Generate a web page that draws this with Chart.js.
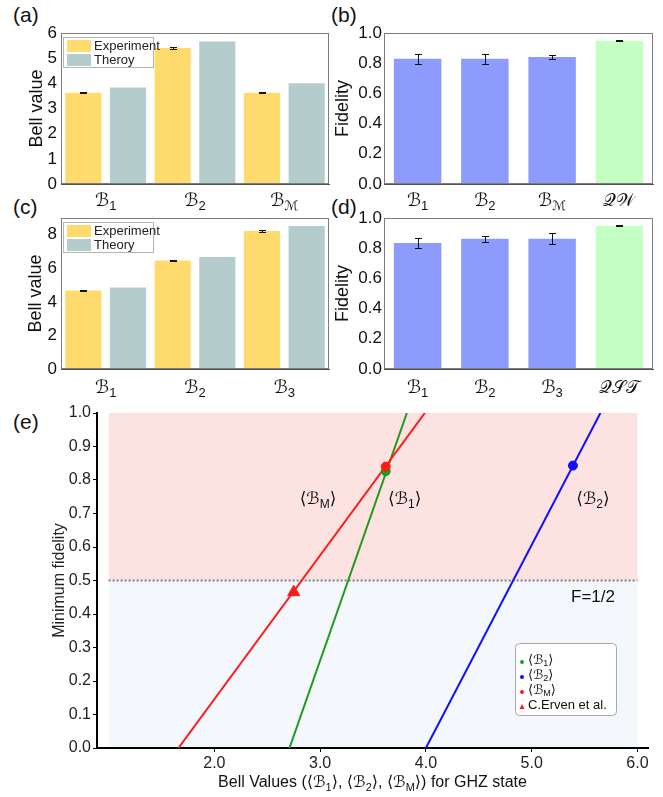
<!DOCTYPE html>
<html>
<head>
<meta charset="utf-8">
<script src="https://cdn.jsdelivr.net/npm/chart.js@4.4.0/dist/chart.umd.min.js"></script>
<style>
    body { margin: 0; background: #fff; width: 663px; height: 797px; position: relative; overflow: hidden; font-family: 'Liberation Sans', Arial, sans-serif; }
    canvas { position: absolute; }
    .tag { position: absolute; font-size: 21px; line-height: 1; color: #111; }
</style>
</head>
<body>
<div class="tag" style="left:13px;top:4px">(a)</div>
<div class="tag" style="left:331px;top:4px">(b)</div>
<div class="tag" style="left:13px;top:196px">(c)</div>
<div class="tag" style="left:331px;top:196px">(d)</div>
<div class="tag" style="left:13px;top:411px">(e)</div>

<canvas id="chartA" width="332" height="215" style="left:0;top:0"></canvas>
<canvas id="chartB" width="333" height="215" style="left:330px;top:0"></canvas>
<canvas id="chartC" width="332" height="215" style="left:0;top:190px"></canvas>
<canvas id="chartD" width="333" height="215" style="left:330px;top:190px"></canvas>
<canvas id="chartE" width="663" height="397" style="left:0;top:400px"></canvas>

<script>
// ---- data ----
// (a) Bell values
const bellCatsA = ['ℬ_{1}', 'ℬ_{2}', 'ℬ_{ℳ}'];
const bellExpA = [3.63, 5.40, 3.63];
const bellExpErrA = [0.03, 0.05, 0.01];
const bellTheoryA = [3.83, 5.66, 4.00];
const bellTicksA = [0, 1, 2, 3, 4, 5, 6];

// (b) fidelities
const fidCatsB = ['ℬ_{1}', 'ℬ_{2}', 'ℬ_{ℳ}', '𝒬𝒲'];
const fidB = [0.83, 0.83, 0.841, 0.949];
const fidErrB = [0.033, 0.033, 0.01, 0.003];

// (c) Bell values
const bellCatsC = ['ℬ_{1}', 'ℬ_{2}', 'ℬ_{3}'];
const bellExpC = [4.68, 6.47, 8.22];
const bellExpErrC = [0.04, 0.04, 0.07];
const bellTheoryC = [4.86, 6.67, 8.52];
const bellTicksC = [0, 2, 4, 6, 8];

// (d) fidelities
const fidCatsD = ['ℬ_{1}', 'ℬ_{2}', 'ℬ_{3}', '𝒬𝒮𝒯'];
const fidD = [0.834, 0.863, 0.863, 0.949];
const fidErrD = [0.031, 0.02, 0.036, 0.003];
const fidTicks = [0, 0.2, 0.4, 0.6, 0.8, 1.0];

// (e) minimum fidelity vs Bell value
const bellTicksE = [2, 3, 4, 5, 6];
const minFidTicksE = [0, 0.1, 0.2, 0.3, 0.4, 0.5, 0.6, 0.7, 0.8, 0.9, 1.0];
const lineFid = [0, 1];
const lineB1 = [2.71, 3.82];
const lineB2 = [4.00, 5.65];
const lineBM = [1.66, 3.99];
const expB1 = [3.62, 0.826];
const expB2 = [5.39, 0.843];
const expBM = [3.62, 0.840];
const ervenPt = [2.75, 0.465];
const fidBound = 0.5;

// ---- colours / fonts ----
const FONT = "'Liberation Sans', 'DejaVu Sans', sans-serif";
const yellow = 'rgb(255,219,110)';
const teal = 'rgb(180,205,204)';
const violet = 'rgb(141,155,252)';
const mint = 'rgb(196,255,196)';
const red = '#ff1a1a', green = '#1f9a1f', blue = '#1010ff';

// text with _{...} subscripts
function parseRich(s) {
    const out = [], re = /_\{([^}]*)\}/g;
    let last = 0, m;
    while ((m = re.exec(s))) {
        if (m.index > last) out.push([s.slice(last, m.index), false]);
        out.push([m[1], true]);
        last = re.lastIndex;
    }
    if (last < s.length) out.push([s.slice(last), false]);
    return out;
}

function drawRich(ctx, s, x, y, size, align, color) {
    const parts = parseRich(s);
    const sub = Math.round(size * 0.7);
    let w = 0;
    parts.forEach(p => { ctx.font = (p[1] ? sub : size) + 'px ' + FONT; w += ctx.measureText(p[0]).width; });
    let cx = align === 'center' ? x - w / 2 : align === 'right' ? x - w : x;
    ctx.save();
    ctx.fillStyle = color || '#111';
    ctx.textBaseline = 'middle';
    ctx.textAlign = 'left';
    parts.forEach(p => {
        ctx.font = (p[1] ? sub : size) + 'px ' + FONT;
        ctx.fillText(p[0], cx, p[1] ? y + size * 0.3 : y);
        cx += ctx.measureText(p[0]).width;
    });
    ctx.restore();
}

// error bars, frame, category labels, legend for the bar panels
const panelPlugin = {
    id: 'panel',
    afterDatasetsDraw(chart, args, opts) {
        const ctx = chart.ctx, y = chart.scales.y;
        ctx.save();
        ctx.strokeStyle = '#111';
        ctx.lineWidth = 1;
        chart.data.datasets.forEach((ds, i) => {
            if (!ds.errors) return;
            chart.getDatasetMeta(i).data.forEach((bar, j) => {
                const hi = Math.round(y.getPixelForValue(ds.data[j] + ds.errors[j])) + 0.5;
                const lo = Math.round(y.getPixelForValue(ds.data[j] - ds.errors[j])) + 0.5;
                const x = Math.round(bar.x) + 0.5, c = opts.cap;
                ctx.beginPath();
                ctx.moveTo(x, hi); ctx.lineTo(x, lo);
                ctx.moveTo(x - c, hi); ctx.lineTo(x + c, hi);
                ctx.moveTo(x - c, lo); ctx.lineTo(x + c, lo);
                ctx.stroke();
            });
        });
        ctx.restore();
    },
    afterDraw(chart, args, opts) {
        const ctx = chart.ctx, a = chart.chartArea, x = chart.scales.x;
        ctx.save();
        ctx.strokeStyle = '#7d7d7d';
        ctx.lineWidth = 1;
        ctx.strokeRect(a.left + 0.5, a.top + 0.5, a.width - 1, a.height - 1);
        ctx.restore();

        chart.data.labels.forEach((lab, i) => {
            drawRich(ctx, lab, x.getPixelForTick(i), a.bottom + opts.labelGap, 18, 'center');
        });

        if (opts.legend) {
            const bx = a.left + 2, by = a.top + 4;
            ctx.save();
            ctx.strokeStyle = '#b5b5b5';
            ctx.strokeRect(bx + 0.5, by + 0.5, 90, 30);
            chart.data.datasets.forEach((ds, i) => {
                ctx.fillStyle = ds.backgroundColor;
                ctx.fillRect(bx + 4, by + 3 + i * 14, 24, 12);
                ctx.fillStyle = '#222';
                ctx.font = '13px ' + FONT;
                ctx.textBaseline = 'middle';
                ctx.fillText(ds.label, bx + 31, by + 9.5 + i * 14);
            });
            ctx.restore();
        }
    }
};

function barChart(id, cfg) {
    return new Chart(document.getElementById(id), {
        type: 'bar',
        data: { labels: cfg.labels, datasets: cfg.datasets },
        plugins: [panelPlugin],
        options: {
            responsive: false,
            animation: false,
            layout: { padding: cfg.padding },
            datasets: { bar: { categoryPercentage: cfg.catPct, barPercentage: cfg.barPct } },
            plugins: {
                legend: { display: false },
                tooltip: { enabled: false },
                panel: { cap: 3.5, labelGap: cfg.labelGap, legend: cfg.legend }
            },
            scales: {
                x: {
                    ticks: { display: false },
                    grid: { display: false, tickLength: 0 },
                    border: { color: '#555' },
                    afterFit: s => { s.height = cfg.xHeight; }
                },
                y: {
                    min: 0,
                    max: cfg.yMax,
                    afterBuildTicks: s => { s.ticks = cfg.yTicks.map(v => ({ value: v })); },
                    afterFit: s => { s.width = cfg.yWidth; },
                    ticks: {
                        color: '#111',
                        padding: cfg.tickPad,
                        font: { size: 17, family: FONT },
                        callback: cfg.tickFmt
                    },
                    grid: { display: false, tickLength: 0 },
                    border: { color: '#555' },
                    title: {
                        display: true,
                        text: cfg.yTitle,
                        color: '#111',
                        font: { size: 18, family: FONT },
                        padding: { top: cfg.titlePad, bottom: 0 }
                    }
                }
            }
        }
    });
}

// (a)
barChart('chartA', {
    labels: bellCatsA,
    datasets: [
        { label: 'Experiment', data: bellExpA, errors: bellExpErrA, backgroundColor: yellow },
        { label: 'Theroy', data: bellTheoryA, backgroundColor: teal }
    ],
    padding: { top: 33, right: 3, left: 0, bottom: 0 },
    catPct: 1.0, barPct: 0.81,
    xHeight: 31, yWidth: 61, tickPad: 4, titlePad: 26,
    yMax: 6, yTicks: bellTicksA, tickFmt: v => String(v),
    yTitle: 'Bell value', labelGap: 17, legend: true
});

// (b)
barChart('chartB', {
    labels: fidCatsB,
    datasets: [
        { label: 'Fidelity', data: fidB, errors: fidErrB, backgroundColor: [violet, violet, violet, mint] }
    ],
    padding: { top: 33, right: 10, left: 0, bottom: 0 },
    catPct: 0.706, barPct: 1.0,
    xHeight: 31, yWidth: 54, tickPad: 2, titlePad: 2,
    yMax: 1, yTicks: fidTicks, tickFmt: v => v.toFixed(1),
    yTitle: 'Fidelity', labelGap: 17, legend: false
});

// (c)
barChart('chartC', {
    labels: bellCatsC,
    datasets: [
        { label: 'Experiment', data: bellExpC, errors: bellExpErrC, backgroundColor: yellow },
        { label: 'Theory', data: bellTheoryC, backgroundColor: teal }
    ],
    padding: { top: 28, right: 3, left: 0, bottom: 0 },
    catPct: 1.0, barPct: 0.81,
    xHeight: 36, yWidth: 61, tickPad: 4, titlePad: 25,
    yMax: 9, yTicks: bellTicksC, tickFmt: v => String(v),
    yTitle: 'Bell value', labelGap: 19, legend: true
});

// (d)
barChart('chartD', {
    labels: fidCatsD,
    datasets: [
        { label: 'Fidelity', data: fidD, errors: fidErrD, backgroundColor: [violet, violet, violet, mint] }
    ],
    padding: { top: 28, right: 10, left: 0, bottom: 0 },
    catPct: 0.706, barPct: 1.0,
    xHeight: 36, yWidth: 54, tickPad: 2, titlePad: 2,
    yMax: 1, yTicks: fidTicks, tickFmt: v => v.toFixed(1),
    yTitle: 'Fidelity', labelGap: 19, legend: false
});

// (e) shaded regions, curve labels, legend, x title
const regionPlugin = {
    id: 'regions',
    beforeDatasetsDraw(chart, args, o) {
        const { ctx, scales: { x, y } } = chart;
        const x0 = x.getPixelForValue(o.xFrom), x1 = x.getPixelForValue(o.xTo);
        const yT = y.getPixelForValue(1), yM = y.getPixelForValue(fidBound), yB = y.getPixelForValue(0);
        ctx.save();
        ctx.fillStyle = 'rgb(253,226,226)';
        ctx.fillRect(x0, yT, x1 - x0, yM - yT);
        ctx.fillStyle = 'rgb(244,248,252)';
        ctx.fillRect(x0, yM, x1 - x0, yB - yM - 1);
        ctx.strokeStyle = '#808080';
        ctx.lineWidth = 2;
        ctx.setLineDash([2, 2]);
        ctx.beginPath();
        ctx.moveTo(x0, yM);
        ctx.lineTo(x1, yM);
        ctx.stroke();
        ctx.restore();
    },
    afterDraw(chart, args, o) {
        const { ctx, chartArea: a, scales: { x, y } } = chart;
        o.curveLabels.forEach(l => {
            drawRich(ctx, l.text, x.getPixelForValue(l.x), y.getPixelForValue(l.y), 17, 'center');
        });
        ctx.save();
        ctx.font = '17px ' + FONT;
        ctx.fillStyle = '#111';
        ctx.textAlign = 'center';
        ctx.textBaseline = 'middle';
        ctx.fillText('F=1/2', x.getPixelForValue(5.58), y.getPixelForValue(0.45));
        ctx.restore();

        // x axis title
        drawRich(ctx, 'Bell Values (⟨ℬ_{1}⟩, ⟨ℬ_{2}⟩, ⟨ℬ_{M}⟩) for GHZ state', (a.left + a.right) / 2, a.bottom + 35, 16, 'center');

        // legend box
        const bx = a.left + 418, by = a.top + 230;
        ctx.save();
        ctx.fillStyle = 'rgba(255,255,255,0.85)';
        ctx.strokeStyle = '#a8a8a8';
        ctx.lineWidth = 1;
        ctx.beginPath();
        ctx.roundRect(bx + 0.5, by + 0.5, 101, 72, 4);
        ctx.fill();
        ctx.stroke();
        const items = [
            ['⟨ℬ_{1}⟩', green, 'dot'],
            ['⟨ℬ_{2}⟩', blue, 'dot'],
            ['⟨ℬ_{M}⟩', red, 'dot'],
            ['C.Erven et al.', red, 'tri']
        ];
        items.forEach((it, i) => {
            const cy = by + 17 + i * 15, cx = bx + 7;
            ctx.fillStyle = it[1];
            ctx.beginPath();
            if (it[2] === 'dot') {
                ctx.arc(cx, cy + 2, 2, 0, Math.PI * 2);
            } else {
                ctx.moveTo(cx - 2.5, cy + 4);
                ctx.lineTo(cx + 2.5, cy + 4);
                ctx.lineTo(cx, cy - 1);
                ctx.closePath();
            }
            ctx.fill();
            drawRich(ctx, it[0], bx + 13, cy, 13, 'left');
        });
        ctx.restore();
    }
};

const pts = (xs, ys) => xs.map((v, i) => ({ x: v, y: ys[i] }));

new Chart(document.getElementById('chartE'), {
    type: 'scatter',
    data: {
        datasets: [
            { label: 'BM', data: [{ x: expBM[0], y: expBM[1] }], backgroundColor: red, borderColor: red, pointRadius: 4.5 },
            { label: 'B1', data: [{ x: expB1[0], y: expB1[1] }], backgroundColor: green, borderColor: green, pointRadius: 4.5 },
            { label: 'B2', data: [{ x: expB2[0], y: expB2[1] }], backgroundColor: blue, borderColor: blue, pointRadius: 4.5 },
            { label: 'C.Erven et al.', data: [{ x: ervenPt[0], y: ervenPt[1] }], backgroundColor: red, borderColor: red, pointStyle: 'triangle', pointRadius: 7 },
            { label: 'BM line', data: pts(lineBM, lineFid), showLine: true, borderColor: red, borderWidth: 2, pointRadius: 0 },
            { label: 'B1 line', data: pts(lineB1, lineFid), showLine: true, borderColor: green, borderWidth: 2, pointRadius: 0 },
            { label: 'B2 line', data: pts(lineB2, lineFid), showLine: true, borderColor: blue, borderWidth: 2, pointRadius: 0 }
        ]
    },
    plugins: [regionPlugin],
    options: {
        responsive: false,
        animation: false,
        layout: { padding: { top: 13, right: 15, left: 0, bottom: 0 } },
        plugins: {
            legend: { display: false },
            tooltip: { enabled: false },
            regions: {
                xFrom: 1.0,
                xTo: 6.0,
                curveLabels: [
                    { text: '⟨ℬ_{M}⟩', x: 2.98, y: 0.743 },
                    { text: '⟨ℬ_{1}⟩', x: 3.80, y: 0.743 },
                    { text: '⟨ℬ_{2}⟩', x: 5.58, y: 0.743 }
                ]
            }
        },
        scales: {
            x: {
                type: 'linear',
                min: 0.89,
                max: 6.1,
                afterBuildTicks: s => { s.ticks = bellTicksE.map(v => ({ value: v })); },
                afterFit: s => { s.height = 49; },
                ticks: { color: '#222', padding: 2, font: { size: 16, family: FONT }, callback: v => v.toFixed(1) },
                grid: { drawOnChartArea: false, tickLength: 4, color: '#000' },
                border: { color: '#000', width: 2 }
            },
            y: {
                min: 0,
                max: 1,
                afterBuildTicks: s => { s.ticks = minFidTicksE.map(v => ({ value: v })); },
                afterFit: s => { s.width = 97; },
                ticks: { color: '#222', padding: 2, font: { size: 16, family: FONT }, callback: v => v.toFixed(1) },
                grid: { drawOnChartArea: false, tickLength: 4, color: '#000' },
                border: { color: '#000', width: 2 },
                title: {
                    display: true,
                    text: 'Minimum fidelity',
                    color: '#222',
                    font: { size: 16, family: FONT },
                    padding: { top: 50, bottom: 0 }
                }
            }
        }
    }
});
</script>
</body>
</html>
